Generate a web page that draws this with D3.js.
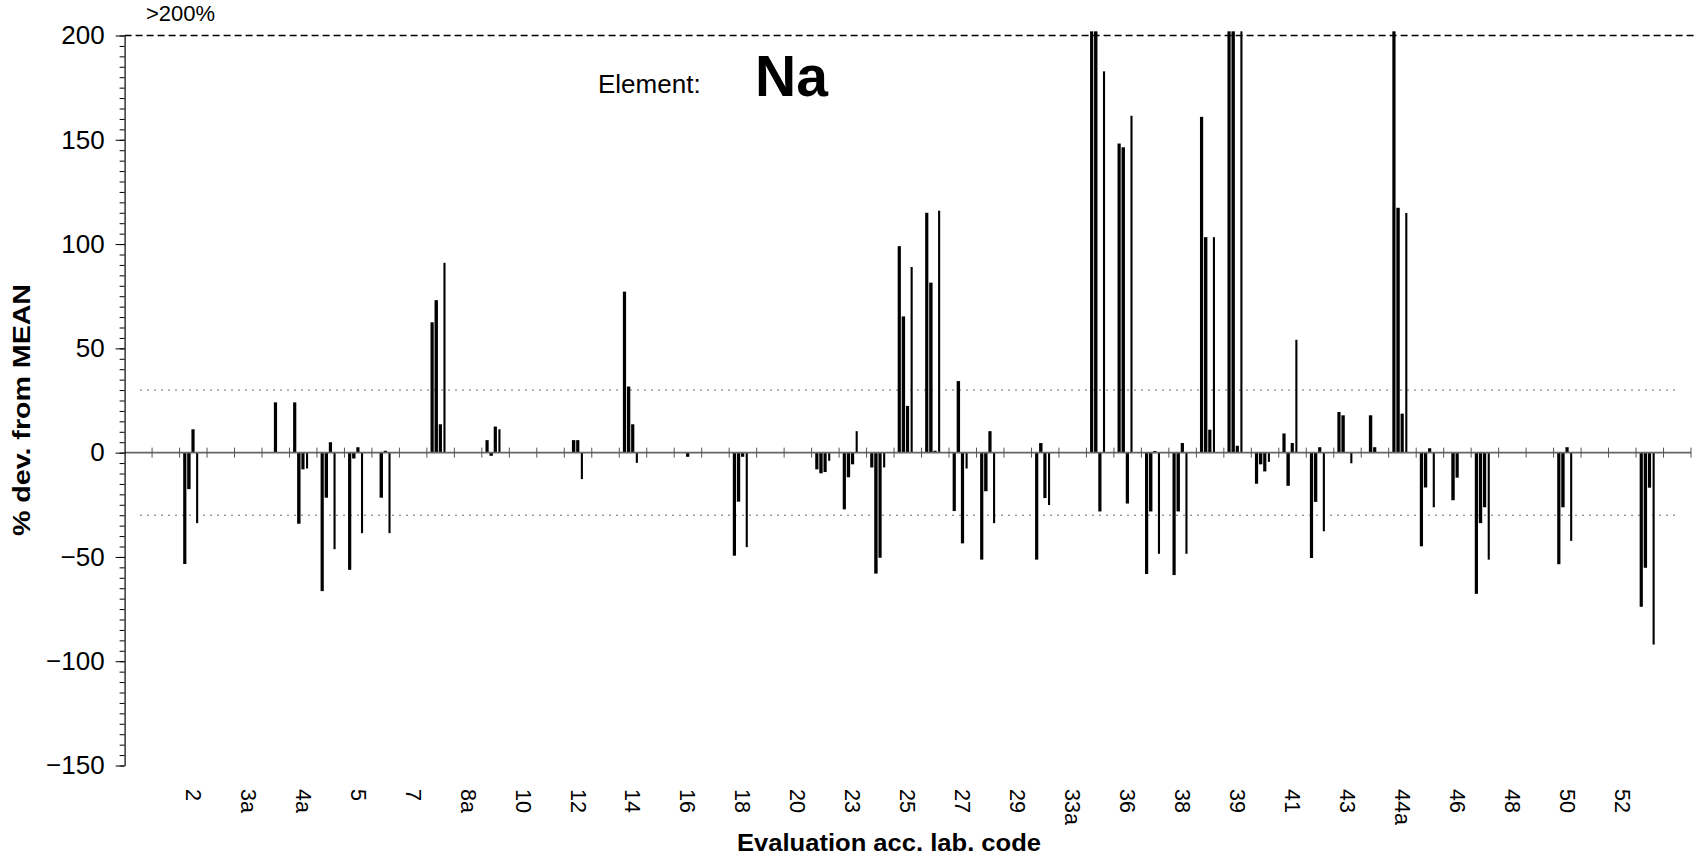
<!DOCTYPE html>
<html><head><meta charset="utf-8">
<script src="https://cdn.jsdelivr.net/npm/d3@7"></script>
<style>html,body{margin:0;padding:0;background:#fff;} svg{display:block;font-family:"Liberation Sans",Arial,sans-serif;}</style>
</head><body><svg id="c" width="1697" height="858"></svg>
<script>
const N = null;
// lab codes (one per category slot on the axis; "" = code not printed)
const labCodes = ["", "", "2", "", "3a", "", "4a", "", "5", "", "7", "", "8a", "", "10", "", "12", "", "14", "",
  "16", "", "18", "", "20", "", "23", "", "25", "", "27", "", "29", "", "33a", "", "36", "", "38", "",
  "39", "", "41", "", "43", "", "44a", "", "46", "", "48", "", "50", "", "52", "", ""];
// % deviation from mean, four results per lab (values >200 shown clipped at the 200 line)
const sample1 = [N,N,-53.4,N,N,N,24.1,-66.4,-56.2,N, N,62.5,N,6.0,N,N,N,N,77.2,N,
  N,N,-49.4,N,N,-8.0,-27.2,-7.1,99.0,115.0, -28.0,-51.3,N,-51.3,N,202,148.2,-58.2,-58.7,161.0,
  202,-14.9,9.2,-50.5,19.5,N,202,-44.9,N,-67.7, N,N,-53.5,N,N,-73.9,N];
const sample2 = [N,N,-17.5,N,N,N,-34.1,-21.6,-2.8,-21.6, N,73.1,N,-1.5,N,N,6.0,N,31.7,N,
  N,N,-23.5,N,N,-9.9,-11.8,-58.0,65.3,81.5, 34.3,-18.5,N,4.6,N,202,146.4,-28.2,-28.2,103.3,
  202,-5.6,-15.9,-23.6,17.9,17.9,117.4,-16.7,-22.8,-33.8, N,N,-26.2,N,N,-55.2,N];
const sample3 = [N,N,11.2,N,N,24.1,-8.0,5.0,2.6,0.9, N,13.6,N,12.5,N,N,6.0,N,13.6,N,
  -2.0,N,-2.0,N,N,-9.3,-5.6,-50.4,22.4,0.9, -43.5,10.3,N,-21.8,N,-28.2,-24.4,0.8,4.6,11.0,
  3.3,-9.0,4.6,2.6,N,2.6,18.7,2.1,-12.0,-26.2, N,N,2.6,N,N,-16.8,N];
const sample4 = [N,N,-33.8,N,N,N,-7.6,-46.3,-38.6,-38.6, N,91.0,N,11.2,N,N,-12.7,N,-4.9,N,
  N,N,-45.3,N,N,-3.9,10.3,-7.1,89.0,116.0, -7.6,-33.8,N,-25.1,N,182.8,161.5,-48.5,-48.5,103.3,
  202,-4.4,54.1,-37.7,-5.1,N,114.9,-26.2,N,-51.3, N,N,-42.3,N,N,-92.0,N];
const yTicks = [-150, -100, -50, 0, 50, 100, 150, 200];
const limitLines = [30, -30];
const clipLevel = 200;
const elementName = "Na";

const series = [sample1, sample2, sample3, sample4];
const svg = d3.select("#c");
const x = d3.scaleBand().domain(d3.range(labCodes.length)).range([124.6, 1691]).padding(0);
const bw = x.bandwidth();
const slot = d3.scalePoint().domain(d3.range(series.length)).range([0.19 * bw, 0.64 * bw]);
const y = d3.scaleLinear().domain([-150, 200]).range([765.5, 35.5]);
const barW = [3.2, 3.4, 3.2, 2.1];

// +-30 dotted limits
svg.selectAll("line.lim").data(limitLines).join("line").attr("class","lim")
  .attr("x1", 140).attr("x2", 1678).attr("y1", d => y(d)).attr("y2", d => y(d))
  .attr("stroke", "#6a6a6a").attr("stroke-width", 1).attr("stroke-dasharray", "2,5");
// 200 dashed line
svg.append("line").attr("x1", 124.6).attr("x2", 1697).attr("y1", y(clipLevel)).attr("y2", y(clipLevel))
  .attr("stroke", "#000").attr("stroke-width", 1.6).attr("stroke-dasharray", "7,4");

// bars
series.forEach((vals, k) => {
  const data = vals.map((v, i) => ({i, v})).filter(d => d.v !== null);
  svg.append("g").selectAll("rect").data(data).join("rect")
    .attr("x", d => x(d.i) + slot(k) - barW[k] / 2)
    .attr("width", barW[k])
    .attr("y", d => y(Math.max(d.v, 0)))
    .attr("height", d => Math.max(1, Math.abs(y(d.v) - y(0))))
    .attr("fill", "#000");
});

// zero line and lab boundaries
const x0 = x.range()[0], x1 = x.range()[1];
svg.append("line").attr("x1", x0).attr("x2", x1).attr("y1", y(0)).attr("y2", y(0))
  .attr("stroke", "#666").attr("stroke-width", 1.6);
svg.append("g").selectAll("line").data(d3.range(1, labCodes.length + 1)).join("line")
  .attr("x1", i => x0 + i * bw).attr("x2", i => x0 + i * bw)
  .attr("y1", y(0) - 5).attr("y2", y(0) + 5).attr("stroke", "#555").attr("stroke-width", 1);

// x labels (rotated)
svg.append("g").selectAll("text").data(labCodes.map((c, i) => ({c, i})).filter(d => d.c !== "")).join("text")
  .attr("transform", d => `translate(${x(d.i) + bw / 2},789) rotate(90)`)
  .attr("dy", "0.35em").attr("text-anchor", "start")
  .attr("font-size", 21.5).attr("fill", "#000").text(d => d.c);

// y axis
const minor = svg.append("g").attr("transform", `translate(${x0},0)`)
  .call(d3.axisLeft(y).tickValues(d3.range(-150, 201, 5)).tickSize(5).tickSizeOuter(0).tickFormat(""));
minor.select(".domain").remove();
minor.selectAll("line").attr("stroke", "#000");
const yAxis = svg.append("g").attr("transform", `translate(${x0},0)`)
  .call(d3.axisLeft(y).tickValues(yTicks).tickSize(9).tickSizeOuter(0).tickPadding(11));
yAxis.select(".domain").attr("stroke", "#000").attr("stroke-width", 1.2);
yAxis.selectAll("line").attr("stroke", "#000");
yAxis.selectAll("text").attr("font-size", 26).attr("font-family", "Liberation Sans, Arial, sans-serif").attr("fill", "#000");

// titles
svg.append("text").attr("transform", "translate(30,410) rotate(-90)").attr("text-anchor", "middle")
  .attr("font-weight", "bold").attr("font-size", 24).attr("textLength", 252).attr("lengthAdjust", "spacingAndGlyphs")
  .text("% dev. from MEAN");
svg.append("text").attr("x", 889).attr("y", 851).attr("text-anchor", "middle")
  .attr("font-weight", "bold").attr("font-size", 23).attr("textLength", 304).attr("lengthAdjust", "spacingAndGlyphs")
  .text("Evaluation acc. lab. code");
svg.append("text").attr("x", 146).attr("y", 21).attr("font-size", 22).text(">200%");
svg.append("text").attr("x", 598).attr("y", 93).attr("font-size", 26).text("Element:");
svg.append("text").attr("x", 755).attr("y", 96).attr("font-size", 57).attr("font-weight", "bold").text(elementName);
</script></body></html>
